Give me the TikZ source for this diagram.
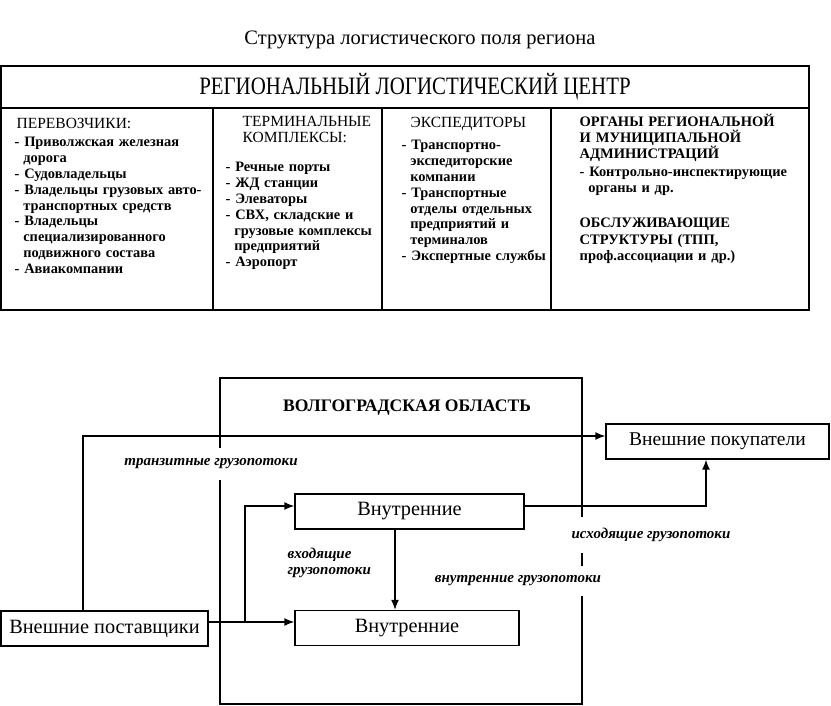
\documentclass[tikz,border=0pt]{standalone}
\usepackage{fontspec}
\setmainfont{Liberation Serif}
\usetikzlibrary{arrows.meta}

% One item of a list with a hanging indent.
\newcommand{\punkt}[1]{\hangindent=0.6em\hangafter=1 -~#1\par}

\begin{document}
\begin{tikzpicture}[%
        x = 1pt,
        y = -1pt,
        line width = 1.4pt,
        > = {Latex[length = 10pt, width = 8pt]},
        box/.style = {draw, inner sep = 0pt, minimum height = 35pt,
            font = \fontsize{20.3}{24}\selectfont},
        column/.style = {anchor = base west, align = left, inner sep = 0pt,
            text width = #1, font = \fontsize{14.4}{15.8}\selectfont},
        head/.style = {anchor = base west, align = left, inner sep = 0pt,
            text width = 225pt, font = \fontsize{15.5}{16}\selectfont},
        flow/.style = {fill = white, inner xsep = 2pt, inner ysep = 11pt,
            font = \fontsize{15}{16}\selectfont\bfseries\itshape},
    ]

        \useasboundingbox (0, 0) rectangle (831, 706);

        % Title.
        \node (title) at (420, 45) [anchor = base]
            {\fontsize{20.5}{24}\selectfont Структура логистического поля региона};

        % Frame of the regional centre with its four columns.
        \draw (1, 66) rectangle (809, 310);
        \draw (1, 108) -- (809, 108);
        \foreach \x in {213, 382, 551}
            \draw (\x, 108) -- (\x, 310);

        \node (centre) at (415, 95) [anchor = base]
            {\fontsize{25}{28}\selectfont\scalebox{0.835}[1]{РЕГИОНАЛЬНЫЙ ЛОГИСТИЧЕСКИЙ ЦЕНТР}};

        % First column: carriers.
        \node (carriers-head) at (16, 129) [head] {ПЕРЕВОЗЧИКИ:};
        \node (carriers) at (14, 147) [column = 197pt] {%
            \bfseries%
            \punkt{Приволжская железная\newline дорога}
            \punkt{Судовладельцы}
            \punkt{Владельцы грузовых авто-\newline транспортных средств}
            \punkt{Владельцы\newline специализированного\newline подвижного состава}
            \punkt{Авиакомпании}};

        % Second column: terminals.
        \node (terminals-head) at (242, 127) [head] {ТЕРМИНАЛЬНЫЕ\\КОМПЛЕКСЫ:};
        \node (terminals) at (225, 172) [column = 155pt] {%
            \bfseries%
            \punkt{Речные порты}
            \punkt{ЖД станции}
            \punkt{Элеваторы}
            \punkt{СВХ, складские и\newline грузовые комплексы\newline предприятий}
            \punkt{Аэропорт}};

        % Third column: forwarders.
        \node (forwarders-head) at (410, 128) [head] {ЭКСПЕДИТОРЫ};
        \node (forwarders) at (401, 150) [column = 150pt] {%
            \bfseries%
            \punkt{Транспортно-\newline экспедиторские\newline компании}
            \punkt{Транспортные\newline отделы отдельных\newline предприятий и\newline терминалов}
            \punkt{Экспертные службы}};

        % Fourth column: administration and services.
        \node (admin-head) at (579, 127) [head, font = \fontsize{14.5}{15.6}\selectfont\bfseries]
            {ОРГАНЫ РЕГИОНАЛЬНОЙ\\И МУНИЦИПАЛЬНОЙ\\АДМИНИСТРАЦИЙ};
        \node (admin) at (579, 177) [column = 228pt] {%
            \bfseries%
            \punkt{Контрольно-инспектирующие\newline органы и др.}};
        \node (services) at (579, 228) [head, font = \fontsize{14.5}{16.5}\selectfont\bfseries]
            {ОБСЛУЖИВАЮЩИЕ\\СТРУКТУРЫ (ТПП,\\проф.ассоциации и др.)};

        % Region frame.
        \draw (220, 378) rectangle (582, 704);
        \node (region) at (407, 411) [anchor = base]
            {\fontsize{17.6}{20}\selectfont\bfseries ВОЛГОГРАДСКАЯ ОБЛАСТЬ};

        % Boxes.
        \node (supplier) at (104.5, 628.5) [box, minimum width = 207pt] {Внешние поставщики};
        \node (buyers) at (717.5, 441.5) [box, minimum width = 223pt,
            font = \fontsize{19.5}{24}\selectfont] {Внешние покупатели};
        \node (inner1) at (409.5, 511.5) [box, minimum width = 229pt] {Внутренние};
        \node (inner2) at (407, 628) [box, minimum width = 224pt] {Внутренние};

        % Turning points of the flows.
        \coordinate (transit) at (83, 436);
        \coordinate (inflow) at (245, 622);
        \coordinate (branch) at (245, 506);
        \coordinate (drop) at (395, 570);
        \coordinate (outflow) at (706, 506);

        % Flows.
        \draw[->] (supplier.north -| transit) |- (buyers.west |- transit);
        \draw[->] (supplier.east |- inflow) -- (inner2.west |- inflow);
        \draw[->] (inflow) |- (inner1.west |- branch);
        \draw[->] (inner1.south -| drop) -- (inner2.north -| drop);
        \draw[->] (inner1.east |- outflow) -| (buyers.south -| outflow);

        % Labels of the flows.
        \node (transit-label) at (211, 464) [flow] {транзитные грузопотоки};
        \node (out-label) at (651, 535) [flow] {исходящие грузопотоки};
        \node (inner-label) at (518, 581) [flow, inner ysep = 10pt] {внутренние грузопотоки};
        \node (in-label) at (287, 563) [flow, fill = none, inner sep = 0pt,
            anchor = west, align = left] {входящие\\грузопотоки};
    \end{tikzpicture}
\end{document}
